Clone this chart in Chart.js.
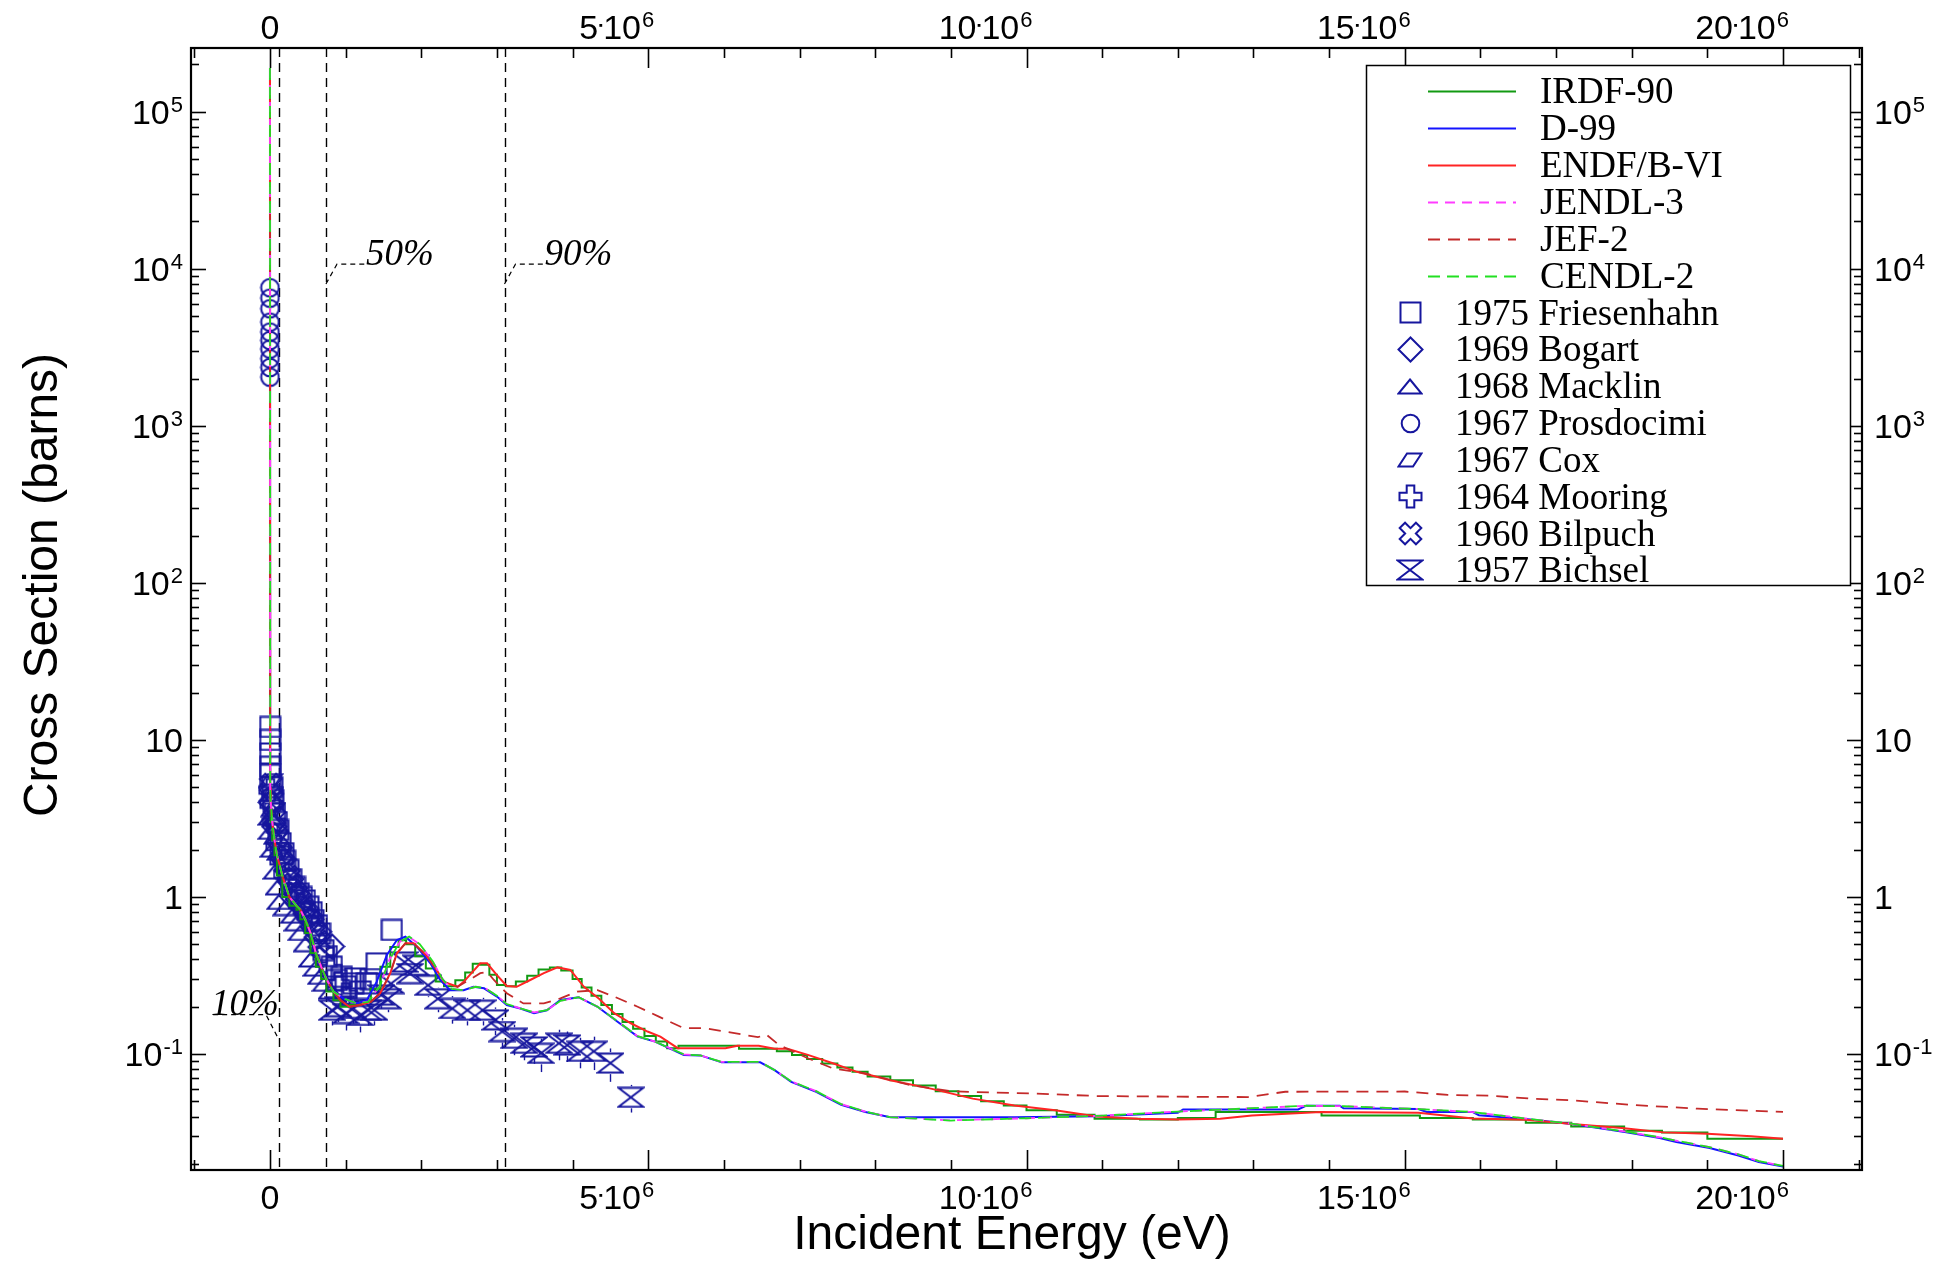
<!DOCTYPE html>
<html>
<head>
<meta charset="utf-8">
<title>Cross Section vs Incident Energy</title>
<script src="https://cdn.jsdelivr.net/npm/chart.js@4.4.1/dist/chart.umd.min.js"></script>
<style>
html,body{margin:0;padding:0;background:#ffffff;overflow:hidden;}
#wrap{position:relative;width:1951px;height:1270px;}
</style>
</head>
<body>
<div id="wrap"><canvas id="chart"></canvas></div>
<script>
// ---------------- data (energies in MeV, cross sections in barns) ----------------
const irdfE = [0,0.003,0.01,0.03,0.06,0.093,0.163,0.256,0.35,0.40,0.466,0.536,0.606,0.676,0.746,0.839,0.932,1.05,1.19,1.33,1.46,1.59,1.70,1.80,1.92,2.06,2.19,2.30,2.45,2.58,2.68,2.78,2.90,3.00,3.12,3.25,3.40,3.55,3.70,3.85,4.00,4.12,4.25,4.38,4.52,4.66,4.80,4.95,5.10,5.25,5.40,6.05,6.20,6.50,6.70,6.90,7.10,7.30,7.50,7.70,7.90,8.20,8.50,8.80,9.10,9.40,9.70,10.00,10.40,10.90,11.50,12.00,12.50,13.00,13.90,15.20,15.90,16.60,17.20,17.90,18.40,19.00,19.60,20.00];
const irdfXS = [1.9e5,5.0,4.0,3.0,2.3,1.84,1.37,1.0,0.88,0.83,0.72,0.59,0.44,0.36,0.30,0.25,0.22,0.20,0.205,0.215,0.26,0.36,0.48,0.53,0.50,0.42,0.35,0.29,0.27,0.295,0.33,0.375,0.37,0.32,0.275,0.27,0.29,0.315,0.345,0.355,0.34,0.30,0.265,0.235,0.205,0.18,0.16,0.145,0.13,0.12,0.109,0.113,0.113,0.108,0.108,0.104,0.0987,0.093,0.087,0.082,0.077,0.072,0.068,0.063,0.058,0.054,0.050,0.047,0.0438,0.041,0.0387,0.0383,0.0392,0.0427,0.0427,0.0406,0.0392,0.0383,0.0365,0.0345,0.0325,0.0317,0.0289,0.0289];

const d99E = [0,0.003,0.01,0.03,0.06,0.093,0.163,0.256,0.35,0.40,0.466,0.536,0.606,0.676,0.746,0.839,0.971,1.148,1.28,1.41,1.545,1.678,1.79,1.94,2.12,2.25,2.38,2.56,2.69,2.83,3.0,3.13,3.31,3.49,3.66,3.84,4.08,4.33,4.59,4.86,5.09,5.47,5.69,5.97,6.48,6.67,6.89,7.22,7.55,7.87,8.2,9.84,10.93,12.0,12.07,13.59,13.7,14.14,14.19,15.18,15.29,15.9,15.98,16.66,17.21,17.93,18.37,18.59,19.03,19.41,19.68,20.0];
const d99XS = [1.9e5,5.0,4.0,3.0,2.3,1.84,1.37,1.0,0.88,0.83,0.72,0.59,0.44,0.36,0.30,0.25,0.226,0.21,0.221,0.288,0.427,0.532,0.558,0.482,0.378,0.296,0.255,0.255,0.268,0.262,0.232,0.205,0.195,0.182,0.19,0.221,0.23,0.20,0.161,0.129,0.12,0.0987,0.098,0.0885,0.0885,0.079,0.0665,0.0574,0.0475,0.0427,0.0396,0.0396,0.0402,0.0422,0.0444,0.0444,0.0469,0.0469,0.0451,0.0446,0.0427,0.0427,0.0408,0.0383,0.0359,0.0318,0.0292,0.0275,0.0252,0.0226,0.0205,0.0192];

const endfE = [0,0.003,0.01,0.03,0.06,0.093,0.163,0.256,0.35,0.40,0.466,0.536,0.606,0.676,0.746,0.839,0.932,1.05,1.19,1.33,1.457,1.59,1.678,1.79,1.9,2.06,2.19,2.3,2.48,2.56,2.78,2.87,3.0,3.13,3.26,3.44,3.62,3.8,3.97,4.15,4.35,4.55,4.77,4.99,5.16,5.39,6.02,6.18,6.46,6.67,6.84,7.11,7.44,7.76,8.2,8.75,9.29,9.84,10.38,10.93,11.47,12.0,12.56,12.98,13.89,15.18,15.9,16.61,17.21,17.87,18.42,19.0,19.58,20.0];
const endfXS = [1.9e5,5.0,4.0,3.0,2.3,1.84,1.37,1.0,0.88,0.83,0.72,0.59,0.44,0.36,0.30,0.25,0.22,0.20,0.205,0.215,0.244,0.327,0.438,0.507,0.507,0.427,0.351,0.288,0.268,0.288,0.378,0.378,0.318,0.271,0.268,0.296,0.327,0.356,0.343,0.268,0.225,0.182,0.157,0.139,0.129,0.109,0.109,0.113,0.113,0.108,0.108,0.0987,0.0873,0.077,0.068,0.060,0.052,0.047,0.0438,0.040,0.0387,0.0383,0.0387,0.0406,0.0427,0.0422,0.0388,0.0381,0.0359,0.0338,0.0317,0.0311,0.0299,0.0289];

const jendlE = [0,0.003,0.01,0.03,0.06,0.093,0.163,0.256,0.35,0.40,0.466,0.536,0.606,0.676,0.746,0.839,0.971,1.148,1.30,1.45,1.58,1.72,1.84,1.98,2.15,2.28,2.40,2.56,2.72,2.85,3.0,3.13,3.31,3.49,3.66,3.84,4.08,4.33,4.59,4.86,5.09,5.47,5.69,5.97,6.48,6.67,6.89,7.22,7.55,7.87,8.2,9.0,10.0,11.0,12.0,12.9,13.7,14.2,15.2,15.9,16.66,17.21,17.93,18.37,19.03,19.41,19.68,20.0];
const jendlXS = [1.9e5,5.0,4.0,3.0,2.3,1.84,1.37,1.0,0.88,0.83,0.72,0.59,0.44,0.36,0.30,0.25,0.226,0.21,0.216,0.27,0.40,0.52,0.555,0.50,0.39,0.30,0.26,0.255,0.268,0.262,0.235,0.208,0.195,0.184,0.19,0.218,0.23,0.20,0.162,0.13,0.12,0.0995,0.098,0.089,0.089,0.079,0.067,0.058,0.048,0.043,0.0396,0.0378,0.039,0.0405,0.043,0.045,0.0468,0.0465,0.0446,0.0427,0.0385,0.036,0.032,0.0295,0.0255,0.023,0.0208,0.0194];

const jefE = [0,0.003,0.01,0.03,0.06,0.093,0.163,0.256,0.35,0.40,0.466,0.536,0.606,0.676,0.746,0.839,0.932,1.05,1.19,1.33,1.457,1.59,1.678,1.79,1.9,2.06,2.19,2.3,2.48,2.6,2.78,2.87,2.96,3.13,3.35,3.62,3.84,4.06,4.33,4.55,4.86,5.14,5.47,5.75,6.29,6.45,6.56,6.73,7.11,7.44,7.87,8.47,9.02,9.56,10.11,10.93,12.0,12.93,13.42,15.0,15.57,16.12,16.66,17.21,18.04,18.87,20.0];
const jefXS = [1.9e5,5.0,4.0,3.0,2.3,1.84,1.37,1.0,0.88,0.83,0.72,0.59,0.44,0.36,0.30,0.25,0.22,0.20,0.205,0.215,0.244,0.327,0.438,0.507,0.507,0.427,0.351,0.288,0.268,0.29,0.327,0.334,0.296,0.244,0.21,0.21,0.226,0.25,0.255,0.232,0.20,0.173,0.146,0.146,0.132,0.128,0.133,0.114,0.094,0.081,0.0752,0.0633,0.0579,0.0568,0.056,0.054,0.0535,0.0532,0.0575,0.0577,0.0549,0.0543,0.052,0.0507,0.0473,0.0449,0.0428];

const cendlE = [0,0.003,0.01,0.03,0.06,0.093,0.163,0.256,0.35,0.40,0.466,0.536,0.606,0.676,0.746,0.839,0.971,1.148,1.30,1.45,1.58,1.72,1.84,1.98,2.15,2.28,2.40,2.56,2.72,2.85,3.0,3.13,3.31,3.49,3.66,3.84,4.08,4.33,4.59,4.86,5.09,5.47,5.69,5.97,6.48,6.67,6.89,7.22,7.55,7.87,8.2,9.0,10.0,11.0,12.0,12.9,13.7,14.2,15.2,15.9,16.66,17.21,17.93,18.37,19.03,19.41,19.68,20.0];
const cendlXS = [1.9e5,5.0,4.0,3.0,2.3,1.84,1.37,1.0,0.88,0.83,0.72,0.59,0.44,0.36,0.30,0.25,0.226,0.21,0.215,0.27,0.40,0.52,0.56,0.50,0.39,0.30,0.26,0.255,0.268,0.262,0.235,0.208,0.195,0.184,0.19,0.218,0.23,0.20,0.162,0.13,0.12,0.0995,0.098,0.089,0.089,0.079,0.067,0.058,0.048,0.043,0.0396,0.0377,0.039,0.0405,0.043,0.045,0.0469,0.0465,0.0446,0.0427,0.0385,0.036,0.032,0.0295,0.0255,0.023,0.0208,0.0194];

// experimental data
const friesE  = [0.003,0.003,0.003,0.003,0.002,0.03,0.044,0.066,0.09,0.11,0.14,0.177,0.2,0.243,0.28,0.331,0.38,0.42,0.46,0.508,0.55,0.574,0.62,0.662,0.706,0.75,0.817,0.883,0.95,1.0,1.10,1.126,1.2,1.28,1.33,1.41,1.61];
const friesXS = [12.1,10.0,8.2,6.75,6.0,5.0,4.14,3.41,3.0,2.67,2.2,1.9,1.7,1.49,1.3,1.16,1.05,1.0,0.95,0.867,0.8,0.713,0.66,0.586,0.459,0.42,0.36,0.296,0.31,0.27,0.282,0.303,0.25,0.282,0.30,0.378,0.617];
const bogartE  = [0.01,0.06,0.15,0.25,0.35,0.45,0.55,0.65,0.82];
const bogartXS = [4.0,2.8,1.8,1.3,1.05,0.85,0.72,0.6,0.484];
const macklinE  = [0.002,0.004,0.03,0.07,0.1,0.12,0.2,0.3,0.35,0.4,0.47,0.54,0.6,0.66,0.72,0.8];
const macklinXS = [3.2,2.6,2.0,1.45,1.15,0.93,0.85,0.76,0.68,0.59,0.5,0.40,0.35,0.31,0.28,0.25];
const prosE  = [2.53e-8,2.53e-8,2.53e-8,2.53e-8,2.53e-8,2.53e-8,2.53e-8,2.53e-8,2.53e-8,2.53e-8];
const prosXS = [7570,6500,5560,4570,3950,3490,3080,2670,2350,2040];
const coxE  = [0.01,0.02,0.04,0.08,0.12];
const coxXS = [5.5,4.5,3.6,2.4,1.9];
const mooringE  = [0.005,0.02,0.05,0.1,0.15,0.2,0.3,0.4,0.5,0.6,0.7,0.8,0.9,1.0];
const mooringXS = [4.8,3.9,3.0,2.1,1.7,1.4,1.1,0.9,0.78,0.62,0.45,0.35,0.28,0.24];
const bilpuchE  = [0.01,0.03,0.06,0.1,0.15,0.2,0.25,0.3,0.35,0.4,0.45,0.5,0.55,0.6,0.65];
const bilpuchXS = [5.2,4.2,3.2,2.4,1.9,1.6,1.35,1.2,1.05,0.95,0.85,0.78,0.7,0.6,0.52];
const bichselE   = [0.82,0.90,1.00,1.10,1.19,1.30,1.38,1.47,1.56,1.60,1.78,1.85,1.93,2.09,2.22,2.41,2.61,2.81,2.98,3.07,3.23,3.36,3.49,3.58,3.82,3.93,4.10,4.28,4.50,4.77];
const bichselXS  = [0.19,0.20,0.181,0.195,0.176,0.19,0.19,0.237,0.225,0.281,0.385,0.325,0.367,0.274,0.225,0.195,0.19,0.19,0.165,0.139,0.126,0.117,0.111,0.101,0.117,0.114,0.104,0.104,0.0875,0.053];
const bichselErr = [0.2,0.2,0.22,0.2,0.22,0.2,0.2,0.18,0.18,0.16,0.14,0.15,0.14,0.16,0.18,0.2,0.2,0.2,0.2,0.22,0.22,0.22,0.22,0.24,0.22,0.22,0.22,0.24,0.24,0.2];

// fraction markers (energies in MeV)
const fracE = [0.12, 0.74, 3.1];
const fracText = ['10%', '50%', '90%'];
const fracLabelXS = [0.178, 1.07e4, 1.07e4];
const fracLeaderXS = [0.13, 8000, 8000];

// tick labels
const xLabelValues = [0, 5e6, 10e6, 15e6, 20e6];
const xLabelPre = ['0', '5', '10', '15', '20'];
const xLabelPost = ['', '10', '10', '10', '10'];
const xLabelExp = ['', '6', '6', '6', '6'];
const yLabelValues = [0.1, 1, 10, 100, 1e3, 1e4, 1e5];
const yLabelBase = ['10', '1', '10', '10', '10', '10', '10'];
const yLabelExp = ['-1', '', '', '2', '3', '4', '5'];

// axis ranges
const xMin = -1.044e6, xMax = 21.044e6;
const yMin = 0.01826, yMax = 2.544e5;

// ---------------- styling ----------------
const DATA_COLOR = '#16169e';
const SANS = '"Liberation Sans", Arial, Helvetica, sans-serif';
const SERIF = '"Liberation Serif", "Times New Roman", Times, serif';
const TICK_FONT = 34, SUP_FONT = 22, SUP_RAISE = 12;

function makeMarker(w, h, path) {
  const c = document.createElement('canvas');
  c.width = w; c.height = h;
  const g = c.getContext('2d');
  g.strokeStyle = DATA_COLOR; g.lineWidth = 2; g.lineJoin = 'miter';
  g.beginPath(); path(g, w, h); g.stroke();
  return c;
}
function plusPath(g, c, a, r) {
  g.moveTo(c - a, c - r); g.lineTo(c + a, c - r); g.lineTo(c + a, c - a); g.lineTo(c + r, c - a);
  g.lineTo(c + r, c + a); g.lineTo(c + a, c + a); g.lineTo(c + a, c + r); g.lineTo(c - a, c + r);
  g.lineTo(c - a, c + a); g.lineTo(c - r, c + a); g.lineTo(c - r, c - a); g.lineTo(c - a, c - a); g.closePath();
}
const mSquare = makeMarker(23, 23, (g, w, h) => { g.rect(1.5, 1.5, w - 3, h - 3); });
const mDiamond = makeMarker(27, 27, (g, w, h) => { g.moveTo(w / 2, 1.5); g.lineTo(w - 1.5, h / 2); g.lineTo(w / 2, h - 1.5); g.lineTo(1.5, h / 2); g.closePath(); });
const mTriangle = makeMarker(26, 17, (g, w, h) => { g.moveTo(w / 2, 1.5); g.lineTo(w - 1.5, h - 1.5); g.lineTo(1.5, h - 1.5); g.closePath(); });
const mCircle = makeMarker(21, 21, (g, w, h) => { g.arc(w / 2, h / 2, 8.8, 0, Math.PI * 2); });
const mPara = makeMarker(26, 16, (g, w, h) => { g.moveTo(10, 1.5); g.lineTo(w - 1.5, 1.5); g.lineTo(w - 10, h - 1.5); g.lineTo(1.5, h - 1.5); g.closePath(); });
const mPlus = makeMarker(25, 25, (g, w, h) => { plusPath(g, w / 2, 3.8, 11); });
const mX = makeMarker(27, 27, (g, w, h) => { g.translate(w / 2, h / 2); g.rotate(Math.PI / 4); g.translate(-w / 2, -h / 2); plusPath(g, w / 2, 3.8, 11.5); });
const mHour = makeMarker(28, 22, (g, w, h) => { g.moveTo(1.5, 1.5); g.lineTo(w - 1.5, 1.5); g.lineTo(w / 2, h / 2); g.lineTo(w - 1.5, h - 1.5); g.lineTo(1.5, h - 1.5); g.lineTo(w / 2, h / 2); g.closePath(); });

function pts(E, XS) { return E.map((e, i) => ({ x: e * 1e6, y: XS[i] })); }

function lineSet(label, E, XS, color, width, dash, order, stepped) {
  return { label, data: pts(E, XS), showLine: true, borderColor: color, backgroundColor: color,
           borderWidth: width, borderDash: dash, pointRadius: 0, pointHoverRadius: 0, fill: false,
           tension: 0, stepped: stepped || false, order, _kind: 'line' };
}
function markSet(label, E, XS, style, order) {
  return { label, data: pts(E, XS), showLine: false, pointStyle: style, pointRadius: 8, pointHoverRadius: 8,
           borderColor: DATA_COLOR, backgroundColor: 'rgba(0,0,0,0)', order, _kind: 'marker' };
}

const datasets = [
  lineSet('IRDF-90', irdfE, irdfXS, '#129a12', 2, [], 6, 'after'),
  lineSet('D-99', d99E, d99XS, '#1414ff', 2, [], 5),
  lineSet('ENDF/B-VI', endfE, endfXS, '#ff2424', 2, [], 4),
  lineSet('JENDL-3', jendlE, jendlXS, '#ff3cff', 1.8, [10, 7], 2),
  lineSet('JEF-2', jefE, jefXS, '#c42a2a', 1.8, [12, 8], 3),
  lineSet('CENDL-2', cendlE, cendlXS, '#22e022', 1.8, [12, 7], 1),
  markSet('1975 Friesenhahn', friesE, friesXS, mSquare, 10),
  markSet('1969 Bogart', bogartE, bogartXS, mDiamond, 11),
  markSet('1968 Macklin', macklinE, macklinXS, mTriangle, 12),
  markSet('1967 Prosdocimi', prosE, prosXS, mCircle, 13),
  markSet('1967 Cox', coxE, coxXS, mPara, 14),
  markSet('1964 Mooring', mooringE, mooringXS, mPlus, 15),
  markSet('1960 Bilpuch', bilpuchE, bilpuchXS, mX, 16),
  markSet('1957 Bichsel', bichselE, bichselXS, mHour, 17)
];

function seg(ctx, x1, y1, x2, y2) { ctx.beginPath(); ctx.moveTo(x1, y1); ctx.lineTo(x2, y2); ctx.stroke(); }

function supText(ctx, parts, x0, baseline) {
  ctx.textAlign = 'left'; ctx.textBaseline = 'alphabetic';
  ctx.font = TICK_FONT + 'px ' + SANS;
  let cx = x0;
  ctx.fillText(parts.pre, cx, baseline);
  cx += ctx.measureText(parts.pre).width;
  if (parts.post) {
    ctx.fillRect(cx + 1.2, baseline - 15, 2.8, 2.8);
    cx += 5;
    ctx.fillText(parts.post, cx, baseline);
    cx += ctx.measureText(parts.post).width;
  }
  if (parts.exp) {
    ctx.font = SUP_FONT + 'px ' + SANS;
    ctx.fillText(parts.exp, cx + 1, baseline - SUP_RAISE);
  }
}
function supWidth(ctx, parts) {
  ctx.font = TICK_FONT + 'px ' + SANS;
  let w = ctx.measureText(parts.pre).width;
  if (parts.post) w += 5 + ctx.measureText(parts.post).width;
  if (parts.exp) { ctx.font = SUP_FONT + 'px ' + SANS; w += 1 + ctx.measureText(parts.exp).width; }
  return w;
}

const decor = {
  id: 'decor',
  beforeDatasetsDraw(chart) {
    const { ctx, chartArea: a, scales: { x, y } } = chart;
    ctx.save();
    ctx.beginPath(); ctx.rect(a.left, a.top, a.right - a.left, a.bottom - a.top); ctx.clip();
    ctx.strokeStyle = '#000'; ctx.lineWidth = 1.4; ctx.setLineDash([9, 6]);
    fracE.forEach(e => { const px = Math.round(x.getPixelForValue(e * 1e6)) + 0.5; seg(ctx, px, a.top, px, a.bottom); });
    ctx.setLineDash([]); ctx.strokeStyle = DATA_COLOR; ctx.lineWidth = 1.4;
    bichselE.forEach((e, i) => {
      const v = bichselXS[i], er = bichselErr[i];
      const px = Math.round(x.getPixelForValue(e * 1e6)) + 0.5;
      const pc = y.getPixelForValue(v), ph = y.getPixelForValue(v * (1 + er)), pl = y.getPixelForValue(v * (1 - er));
      if (pc - ph > 11) seg(ctx, px, ph, px, pc - 11);
      if (pl - pc > 11) seg(ctx, px, pc + 11, px, pl);
    });
    ctx.restore();
  },
  afterDraw(chart) {
    const { ctx, chartArea: a, scales: { x, y } } = chart;
    ctx.save();
    ctx.setLineDash([]);
    ctx.strokeStyle = '#000'; ctx.fillStyle = '#000';
    ctx.lineWidth = 1.6;
    for (let k = -1; k <= 21; k++) {
      const px = Math.round(x.getPixelForValue(k * 1e6)) + 0.5;
      if (px < a.left || px > a.right) continue;
      const L = (k % 5 === 0) ? 20 : 10;
      seg(ctx, px, a.bottom, px, a.bottom - L);
      seg(ctx, px, a.top, px, a.top + L);
    }
    for (let d = -2; d <= 5; d++) {
      for (let m = 1; m <= 9; m++) {
        const v = m * Math.pow(10, d);
        if (v < yMin || v > yMax) continue;
        const py = Math.round(y.getPixelForValue(v)) + 0.5;
        const L = (m === 1) ? 15 : 8;
        seg(ctx, a.left, py, a.left + L, py);
        seg(ctx, a.right, py, a.right - L, py);
      }
    }
    ctx.lineWidth = 2.2;
    ctx.strokeRect(a.left, a.top, a.right - a.left, a.bottom - a.top);

    // x tick labels (bottom and top)
    xLabelValues.forEach((v, i) => {
      const parts = { pre: xLabelPre[i], post: xLabelPost[i], exp: xLabelExp[i] };
      const px = x.getPixelForValue(v);
      const w = supWidth(ctx, parts);
      const x0 = parts.post ? px + 6 - w : px - w / 2;
      supText(ctx, parts, x0, a.bottom + 39);
      supText(ctx, parts, x0, a.top - 9);
    });
    // y tick labels (left and right)
    yLabelValues.forEach((v, i) => {
      const parts = { pre: yLabelBase[i], post: '', exp: yLabelExp[i] };
      const py = y.getPixelForValue(v);
      const w = supWidth(ctx, parts);
      supText(ctx, parts, a.left - 8 - w, py + 12);
      supText(ctx, parts, a.right + 12, py + 12);
    });

    // axis titles
    ctx.font = '48px ' + SANS;
    ctx.textAlign = 'center'; ctx.textBaseline = 'alphabetic';
    ctx.fillText('Incident Energy (eV)', 1012, 1249);
    ctx.save();
    ctx.translate(57, 585); ctx.rotate(-Math.PI / 2);
    ctx.fillText('Cross Section (barns)', 0, 0);
    ctx.restore();

    // fraction labels with leaders
    ctx.font = 'italic 37px ' + SERIF;
    ctx.textAlign = 'left'; ctx.textBaseline = 'alphabetic';
    fracE.forEach((e, i) => {
      const L = x.getPixelForValue(e * 1e6);
      const yl = y.getPixelForValue(fracLabelXS[i]);
      const y0 = y.getPixelForValue(fracLeaderXS[i]);
      ctx.setLineDash([5, 4]); ctx.lineWidth = 1.2;
      ctx.beginPath();
      if (i === 0) {
        ctx.moveTo(L - 2, y0); ctx.lineTo(L - 13, yl); ctx.lineTo(L - 68, yl);
      } else {
        ctx.moveTo(L, y0); ctx.lineTo(L + 11, yl); ctx.lineTo(L + 40, yl);
      }
      ctx.stroke();
      ctx.setLineDash([]);
      if (i === 0) ctx.fillText(fracText[i], L - 68, yl);
      else ctx.fillText(fracText[i], L + 40, yl + 1);
    });

    // legend
    const bx = 1366, by = 65, bw = 1850 - 1366, bh = 585 - 65;
    ctx.fillStyle = '#fff';
    ctx.fillRect(bx, by, bw, bh);
    ctx.strokeStyle = '#000'; ctx.lineWidth = 1.5; ctx.setLineDash([]);
    ctx.strokeRect(bx + 0.5, by + 0.5, bw, bh);
    ctx.font = '37px ' + SERIF;
    ctx.fillStyle = '#000'; ctx.textAlign = 'left'; ctx.textBaseline = 'alphabetic';
    chart.data.datasets.forEach((ds, i) => {
      const yc = 91.4 + i * 36.85;
      if (ds._kind === 'line') {
        ctx.strokeStyle = ds.borderColor; ctx.lineWidth = ds.borderWidth;
        ctx.setLineDash(ds.borderDash || []);
        seg(ctx, 1428, Math.round(yc) + 0.5, 1516, Math.round(yc) + 0.5);
        ctx.setLineDash([]);
        ctx.fillStyle = '#000';
        ctx.fillText(ds.label, 1540, yc + 12);
      } else {
        const st = ds.pointStyle;
        ctx.drawImage(st, Math.round(1410 - st.width / 2), Math.round(yc - st.height / 2));
        ctx.fillStyle = '#000';
        ctx.fillText(ds.label, 1455, yc + 12);
      }
    });
    ctx.restore();
  }
};

const axisCommon = { ticks: { display: false }, grid: { display: false }, border: { display: false } };

new Chart(document.getElementById('chart'), {
  type: 'scatter',
  data: { datasets },
  options: {
    responsive: true,
    maintainAspectRatio: false,
    animation: false,
    layout: { padding: 0 },
    plugins: { legend: { display: false }, tooltip: { enabled: false } },
    events: [],
    scales: {
      x: Object.assign({ type: 'linear', position: 'bottom', min: xMin, max: xMax,
                         afterFit(s) { s.height = 100; } }, axisCommon),
      xTop: Object.assign({ type: 'linear', position: 'top', min: xMin, max: xMax,
                            afterFit(s) { s.height = 48; } }, axisCommon),
      y: Object.assign({ type: 'logarithmic', position: 'left', min: yMin, max: yMax,
                         afterFit(s) { s.width = 191; } }, axisCommon),
      yRight: Object.assign({ type: 'logarithmic', position: 'right', min: yMin, max: yMax,
                              afterFit(s) { s.width = 89; } }, axisCommon)
    }
  },
  plugins: [decor]
});
</script>
</body>
</html>
